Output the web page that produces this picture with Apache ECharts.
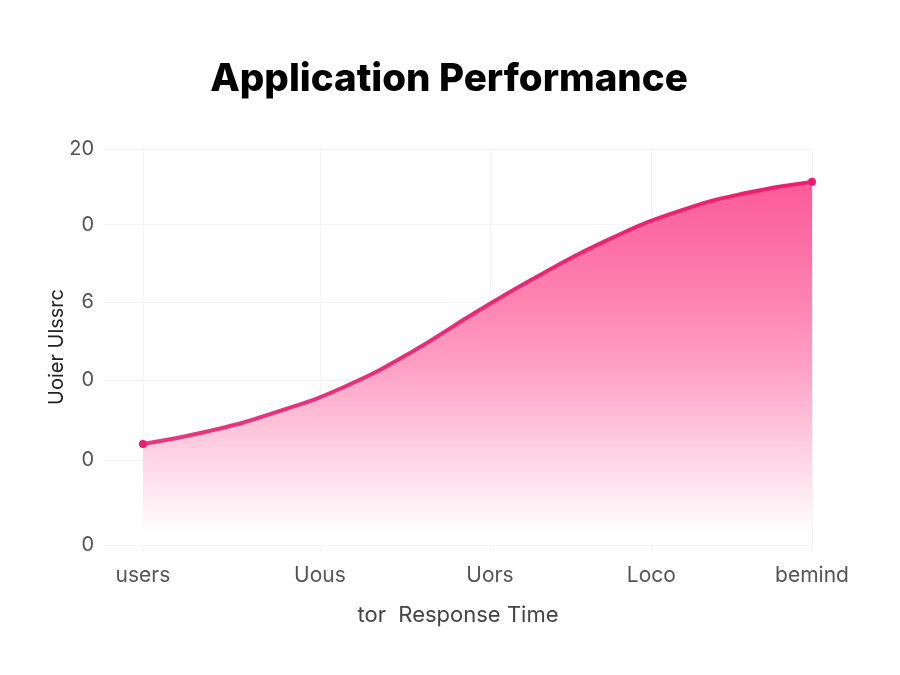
<!DOCTYPE html>
<html>
<head>
<meta charset="utf-8">
<style>
  html, body { margin: 0; padding: 0; background: #fff; }
  #chart { width: 900px; height: 675px; }
</style>
<script src="https://cdn.jsdelivr.net/npm/echarts@6/dist/echarts.min.js"></script>
</head>
<body>
<div id="chart"></div>
<script>
const xTicks = [5.5, 30.5, 54.5, 77.3, 100];
const xLabels = ['users', 'Uous', 'Uors', 'Loco', 'bemind'];
const yTicks = [0, 21.5, 41.6, 61.4, 80.9, 100];
const yLabels = ['0', '0', '0', '6', '0', '20'];
const xValues = [5.5, 14.9, 24.4, 33.9, 43.4, 52.8, 62.3, 71.7, 81.2, 90.7, 100];
const yValues = [25.5, 28.8, 33.6, 39.9, 48.7, 59.1, 68.9, 77.5, 84.3, 88.9, 91.7];

const points = xValues.map((x, i) => [x, yValues[i]]);
const gridColor = '#f3f4f4';
const font = 'Inter';

const chart = echarts.init(document.getElementById('chart'), null, { renderer: 'canvas' });
chart.setOption({
  backgroundColor: '#ffffff',
  animation: false,
  title: {
    text: 'Application Performance',
    left: 444,
    top: 55,
    textAlign: 'center',
    textStyle: { fontFamily: font, fontSize: 38.5, fontWeight: 800, color: '#000' }
  },
  grid: { left: 104, right: 88, top: 149, bottom: 130 },
  xAxis: {
    type: 'value',
    min: 0,
    max: 100,
    name: 'tor  Response Time',
    nameLocation: 'middle',
    nameGap: 59,
    nameMoveOverlap: false,
    nameTextStyle: { fontFamily: font, fontSize: 22, color: '#444' },
    axisLine: { show: true, lineStyle: { color: gridColor } },
    axisTick: { show: true, length: 8, customValues: xTicks, lineStyle: { color: gridColor } },
    splitLine: { show: true, lineStyle: { color: gridColor } },
    axisLabel: {
      customValues: xTicks,
      margin: 20,
      fontFamily: font,
      fontSize: 21,
      color: '#555',
      formatter: (v) => xLabels[xTicks.indexOf(v)]
    }
  },
  yAxis: {
    type: 'value',
    min: 0,
    max: 100,
    name: 'Uoier Ulssrc',
    nameLocation: 'middle',
    nameGap: 37,
    nameMoveOverlap: false,
    nameTextStyle: { fontFamily: font, fontSize: 20, color: '#222' },
    axisLine: { show: false },
    axisTick: { show: false, customValues: yTicks },
    splitLine: { show: true, lineStyle: { color: gridColor } },
    axisLabel: {
      customValues: yTicks,
      margin: 10,
      fontFamily: font,
      fontSize: 20,
      color: '#555',
      formatter: (v) => yLabels[yTicks.indexOf(v)]
    }
  },
  series: [{
    type: 'line',
    data: points,
    smooth: 0.5,
    clip: false,
    symbol: (v, p) => (p.dataIndex === 0 || p.dataIndex === points.length - 1 ? 'circle' : 'none'),
    symbolSize: 8,
    lineStyle: {
      width: 4,
      color: new echarts.graphic.LinearGradient(0, 0, 1, 0, [
        { offset: 0, color: '#e8387f' },
        { offset: 1, color: '#ee1c6e' }
      ])
    },
    itemStyle: { color: '#ee1a6f' },
    areaStyle: {
      opacity: 1,
      color: new echarts.graphic.LinearGradient(0, 0, 0, 1, [
        { offset: 0, color: '#fb5a99' },
        { offset: 0.33, color: '#fd84b0' },
        { offset: 0.5, color: '#fd9fc3' },
        { offset: 0.75, color: '#fed3e3' },
        { offset: 0.97, color: '#ffffff' },
        { offset: 1, color: '#ffffff' }
      ])
    }
  }]
});
</script>
</body>
</html>
